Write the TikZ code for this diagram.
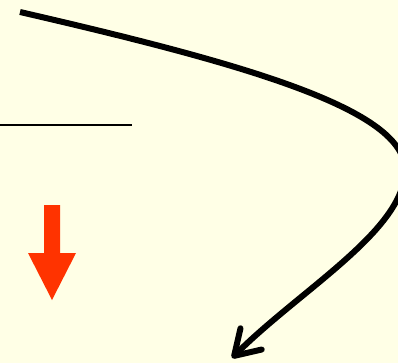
\documentclass[tikz,border=0pt]{standalone}
\usepackage{tikz}
\usepackage{xcolor}
\usetikzlibrary{arrows.meta}

\definecolor{paper}{HTML}{FFFFE6}
\definecolor{downred}{HTML}{FF3300}

\begin{document}
\begin{tikzpicture}[
  x=1pt, y=-1pt,
  sweep/.style={line width=6pt, -{Straight Barb[length=24pt, width=30pt, line cap=round, line join=round]}},
  rule/.style={line width=2pt},
  redarrow/.style={fill=downred, draw=none}
]
\fill[paper] (0,0) rectangle (398,363);
\useasboundingbox (0,0) rectangle (398,363);
\coordinate (start) at (20,12);
\coordinate (turn) at (405,170);
\coordinate (tip) at (232,358);
\coordinate (ruleL) at (0,125);
\coordinate (ruleR) at (132,125);
% the long curved arrow
\begin{scope}
\clip (0,0) rectangle (398,363);
\draw[sweep] (start) .. controls (250,65) and (405,110) .. (turn)
  .. controls (405,230) and (300,290) .. (tip);
\end{scope}
\draw[rule] (ruleL) -- (ruleR);
% red block arrow
\fill[redarrow] (44,205) -- (60,205) -- (60,253) -- (76,253) -- (52,300)
  -- (28,253) -- (44,253) -- cycle;
\end{tikzpicture}
\end{document}
